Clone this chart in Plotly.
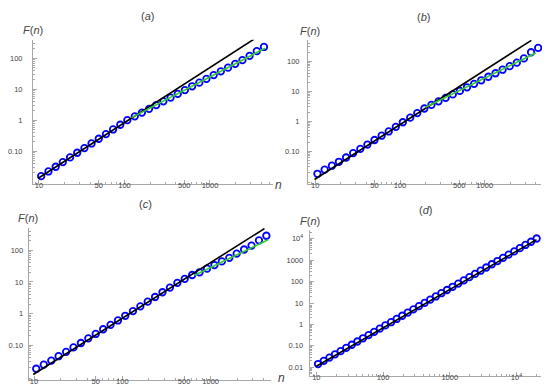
import math
import plotly.graph_objects as go

# ---------------- data ----------------
n_abc = [10.6, 12.9, 15.7, 19.0, 23.1, 28.0, 34.0, 41.2, 50.0, 60.7, 73.6, 89.3,
         108, 132, 160, 194, 235, 285, 346, 420, 509, 618, 750, 910,
         1104, 1340, 1626, 1973, 2394, 2905, 3525, 4277]
n_d = n_abc + [5190, 6297, 7641, 9272, 11250, 13651, 16565, 20100]

F_a = [0.0158, 0.0224, 0.0317, 0.0449, 0.0634, 0.0897, 0.127, 0.179, 0.254, 0.359,
       0.507, 0.718, 1.01, 1.34, 1.77, 2.34, 3.09, 4.09, 5.40, 7.14, 9.42, 12.5,
       16.4, 21.7, 28.7, 37.9, 50.0, 66.1, 87.1, 120, 170, 232]
F_b = [0.0178, 0.0245, 0.0331, 0.0447, 0.0621, 0.0871, 0.120, 0.167, 0.238, 0.331,
       0.459, 0.655, 0.929, 1.32, 1.88, 2.67, 3.52, 4.62, 6.05, 7.89, 10.3, 13.6,
       17.7, 23.3, 30.5, 40.0, 52.4, 68.7, 90.0, 125, 200, 280]
F_c = [0.0182, 0.0245, 0.0329, 0.0453, 0.0622, 0.0857, 0.118, 0.166, 0.228, 0.321,
       0.441, 0.607, 0.853, 1.20, 1.69, 2.38, 3.34, 4.72, 6.62, 9.33, 12.5, 16.5,
       20.1, 26.2, 34.0, 44.3, 57.4, 78.0, 105, 140, 205, 285]
F_d = [0.0142, 0.0200, 0.0283, 0.0401, 0.0566, 0.0800, 0.113, 0.160, 0.226, 0.319,
       0.451, 0.637, 0.900, 1.27, 1.80, 2.54, 3.59, 5.07, 7.16, 10.1, 14.3, 20.2,
       28.6, 40.4, 57.0, 80.5, 114, 161, 227, 321, 454, 641, 906, 1280, 1810,
       2560, 3610, 5100, 7210, 10200]

black_a_n, black_a_F = [9.8, 3250], [0.0135, 410]
green_a_n, green_a_F = [121, 4400], [1.22, 210]
black_b_n, black_b_F = [9.8, 3550], [0.0115, 500]
green_b_n, green_b_F = [200, 4000], [2.95, 190]
black_c_n, black_c_F = [9.8, 4070], [0.0120, 480]
green_c_n, green_c_F = [660, 4470], [16.2, 214]
black_d_n, black_d_F = [10, 20000], [0.0112, 9000]

x_ticks_abc = [10, 50, 100, 500, 1000]
x_text_abc = ["10", "50", "100", "500", "1000"]
y_ticks_abc = [0.1, 1, 10, 100]
y_text_abc = ["0.10", "1", "10", "100"]
x_ticks_d = [10, 100, 1000, 10000]
x_text_d = ["10", "100", "1000", "10<sup>4</sup>"]
y_ticks_d = [0.01, 0.1, 1, 10, 100, 1000, 10000]
y_text_d = ["0.01", "0.10", "1", "10", "100", "1000", "10<sup>4</sup>"]

panel_labels = ["(<i>a</i>)", "(<i>b</i>)", "(<i>c</i>)", "(<i>d</i>)"]

# ---------------- layout geometry (pixels) ----------------
W, H = 550, 385
AX = "#a8a8a8"
TXT = "#444444"
FONT = "Arial"

panels = [
    dict(x0=25, x1=265, xr=[0.93, 3.737], yt=31.7, yb=175.7, yr=[-2.045, 2.6], ys=8,
         n=n_abc, F=F_a, black=(black_a_n, black_a_F), green=(green_a_n, green_a_F),
         xt=(x_ticks_abc, x_text_abc), ytk=(y_ticks_abc, y_text_abc),
         title=(140, 8), Fn=(25, 22), nl=(270, 177)),
    dict(x0=300, x1=533.3, xr=[0.914, 3.668], yt=31.7, yb=175.7, yr=[-2.08, 2.72], ys=6,
         n=n_abc, F=F_b, black=(black_b_n, black_b_F), green=(green_b_n, green_b_F),
         xt=(x_ticks_abc, x_text_abc), ytk=(y_ticks_abc, y_text_abc),
         title=(415, 9), Fn=(302, 23), nl=(541, 176)),
    dict(x0=20.7, x1=263.3, xr=[0.94, 3.687], yt=220, yb=371.7, yr=[-2.085, 2.70], ys=3,
         n=n_abc, F=F_c, black=(black_c_n, black_c_F), green=(green_c_n, green_c_F),
         xt=(x_ticks_abc, x_text_abc), ytk=(y_ticks_abc, y_text_abc),
         title=(137, 196), Fn=(20, 210), nl=(273, 370)),
    dict(x0=301.7, x1=533.3, xr=[0.90, 4.373], yt=221.7, yb=368.3, yr=[-2.42, 4.42], ys=4,
         n=n_d, F=F_d, black=(black_d_n, black_d_F), green=None,
         xt=(x_ticks_d, x_text_d), ytk=(y_ticks_d, y_text_d),
         title=(417, 202), Fn=(302, 213), nl=(541, 367)),
]

fig = go.Figure()
annotations = []
layout = dict(width=W, height=H, margin=dict(l=0, r=0, t=0, b=0, autoexpand=False),
              paper_bgcolor="white", plot_bgcolor="white", showlegend=False,
              font=dict(family=FONT, size=9, color=TXT))


def minor_vals(lo, hi):
    vals = []
    for e in range(int(math.floor(lo)) - 1, int(math.ceil(hi)) + 1):
        for m in range(2, 10):
            v = m * 10 ** e
            if lo <= math.log10(v) <= hi:
                vals.append(v)
    return vals


def label(x, y, text, size=11):
    return dict(x=x / W, y=1 - y / H, xref="paper", yref="paper", text=text,
                showarrow=False, xanchor="center", yanchor="middle",
                font=dict(family=FONT, size=size, color=TXT))


for i, p in enumerate(panels):
    k = "" if i == 0 else str(i + 1)
    xa, ya = "x" + k, "y" + k
    fig.add_trace(go.Scatter(x=p["n"], y=p["F"], mode="markers", xaxis=xa, yaxis=ya,
                             marker=dict(symbol="circle-open", size=6.5, color="#0000ff",
                                         line=dict(width=1.8, color="#0000ff")),
                             cliponaxis=False))
    bn, bF = p["black"]
    fig.add_trace(go.Scatter(x=bn, y=bF, mode="lines", xaxis=xa, yaxis=ya,
                             line=dict(color="black", width=1.6), cliponaxis=False))
    if p["green"] is not None:
        gn, gF = p["green"]
        fig.add_trace(go.Scatter(x=gn, y=gF, mode="lines", xaxis=xa, yaxis=ya,
                                 line=dict(color="#33cc33", width=1.6), cliponaxis=False))
    common = dict(type="log", showgrid=False, zeroline=False, showline=True,
                  automargin=False,
                  linecolor=AX, linewidth=1, ticks="inside", ticklen=4, tickwidth=1,
                  tickcolor=AX, tickfont=dict(family=FONT, size=7.5, color=TXT))
    layout["xaxis" + k] = dict(common, domain=[p["x0"] / W, p["x1"] / W], range=p["xr"],
                               anchor=ya, tickvals=p["xt"][0], ticktext=p["xt"][1],
                               ticklabelstandoff=-6,
                               minor=dict(ticks="inside", ticklen=2, tickcolor=AX,
                                          tickvals=minor_vals(*p["xr"])))
    layout["yaxis" + k] = dict(common, domain=[1 - p["yb"] / H, 1 - p["yt"] / H],
                               range=p["yr"], anchor=xa, tickvals=p["ytk"][0],
                               ticktext=p["ytk"][1], ticklabelstandoff=p["ys"],
                               minor=dict(ticks="inside", ticklen=2, tickcolor=AX,
                                          tickvals=minor_vals(*p["yr"])))
    annotations.append(label(*p["title"], panel_labels[i]))
    annotations.append(label(*p["Fn"], "<i>F</i>(<i>n</i>)"))
    annotations.append(label(*p["nl"], "<i>n</i>", 12))

layout["annotations"] = annotations
fig.update_layout(**layout)
fig.write_html("out.html")
